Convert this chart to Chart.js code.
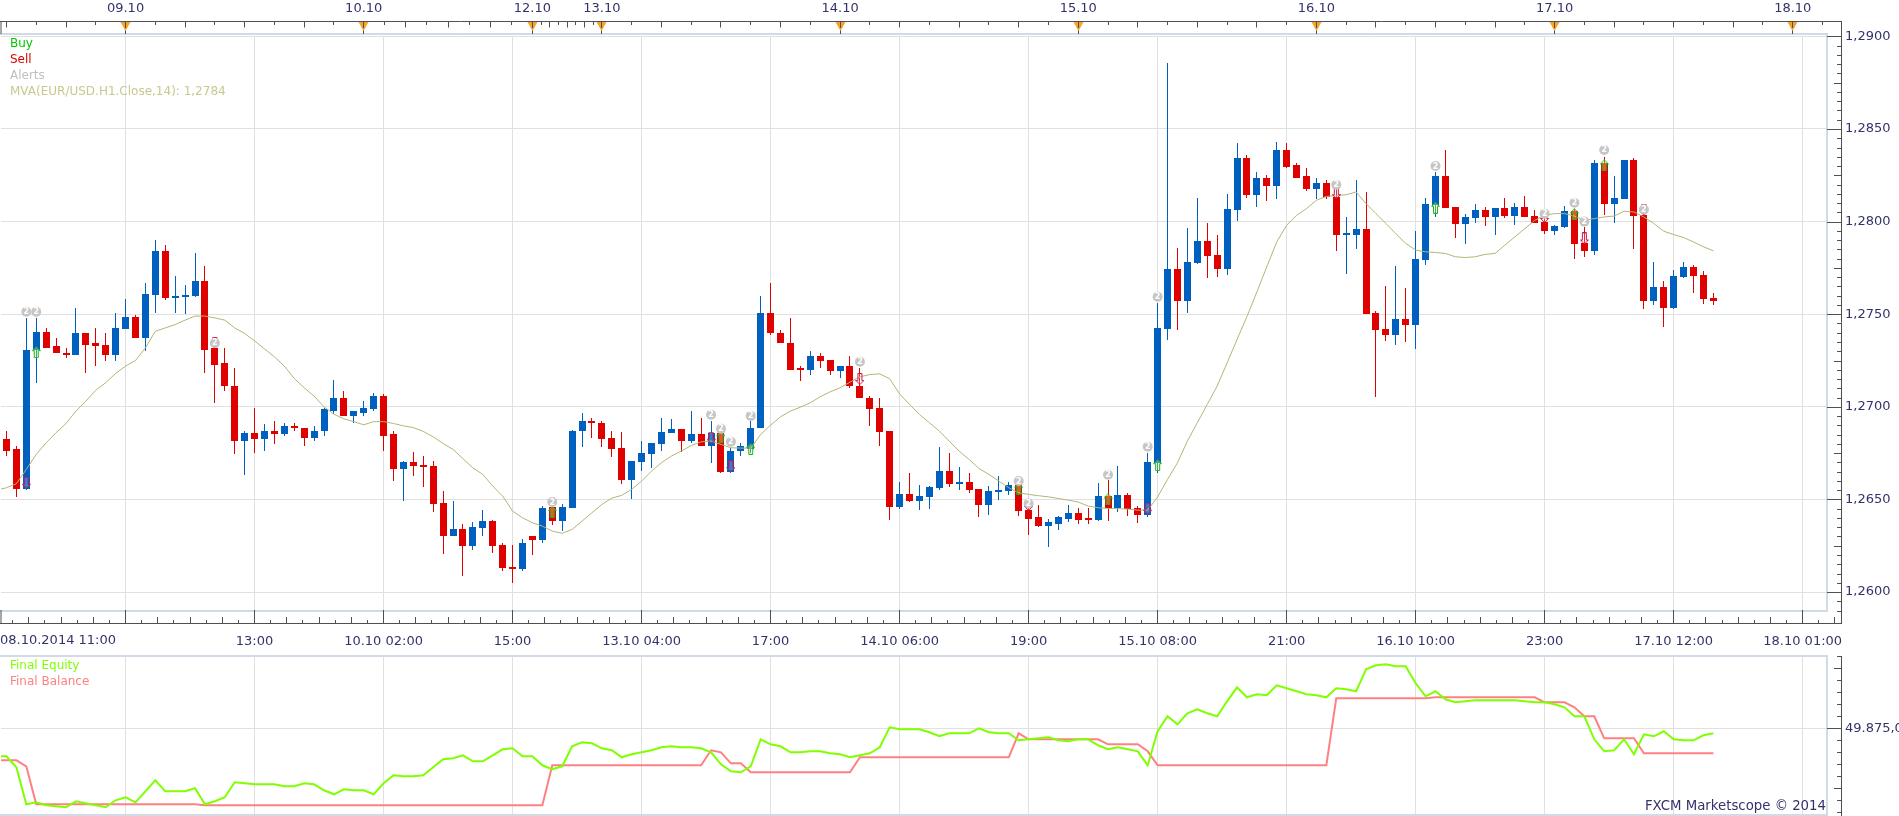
<!DOCTYPE html>
<html>
<head>
<meta charset="utf-8">
<title>EUR/USD H1</title>
<script src="https://cdn.jsdelivr.net/npm/chart.js@4/dist/chart.umd.js"></script>
<style>
  html, body { margin: 0; padding: 0; background: #fff; overflow: hidden; }
  canvas { position: absolute; left: 0; display: block; }
  #priceChart { top: 0; }
  #equityChart { top: 655px; }
</style>
</head>
<body>
<canvas id="priceChart" width="1899" height="655"></canvas>
<canvas id="equityChart" width="1899" height="161"></canvas>
<script>
// candle 0 is 08.10 11:00 and sits just off the left edge, so the OHLC lists start at hour 1
const opens = [
  1.26824,1.26770,1.26554,1.27309,1.27406,1.27326,1.27293,1.27282,1.27401,1.27342,
  1.27336,1.27282,1.27421,1.27486,1.27374,1.27604,1.27840,1.27588,1.27593,1.27599,
  1.27679,1.27315,1.27234,1.27115,1.26813,1.26856,1.26824,1.26872,1.26851,1.26899,
  1.26888,1.26829,1.26867,1.26980,1.27050,1.26948,1.26969,1.26986,1.27056,1.26851,
  1.26662,1.26700,1.26683,1.26678,1.26478,1.26300,1.26338,1.26246,1.26344,1.26381,
  1.26252,1.26133,1.26122,1.26300,1.26279,1.26457,1.26381,1.26451,1.26867,1.26921,
  1.26915,1.26829,1.26775,1.26603,1.26700,1.26743,1.26797,1.26856,1.26878,1.26813,
  1.26851,1.26791,1.26856,1.26646,1.26759,1.26770,1.26883,1.27504,1.27401,1.27347,
  1.27207,1.27201,1.27277,1.27255,1.27191,1.27218,1.27115,1.27050,1.26991,1.26867,
  1.26457,1.26527,1.26489,1.26511,1.26560,1.26656,1.26581,1.26592,1.26554,1.26468,
  1.26538,1.26543,1.26576,1.26441,1.26403,1.26354,1.26370,1.26397,1.26424,1.26392,
  1.26387,1.26516,1.26451,1.26522,1.26451,1.26414,1.26694,1.27421,1.27744,1.27572,
  1.27776,1.27894,1.27819,1.27744,1.28061,1.28346,1.28142,1.28238,1.28190,1.28389,
  1.28303,1.28244,1.28174,1.28211,1.28131,1.27927,1.27927,1.27959,1.27507,1.27421,
  1.27389,1.27475,1.27443,1.27792,1.28090,1.28244,1.28077,1.27986,1.28018,1.28061,
  1.28023,1.28072,1.28029,1.28077,1.28029,1.27996,1.27948,1.27970,1.28056,1.27884,
  1.27840,1.28319,1.28093,1.28120,1.28330,1.28034,1.27572,1.27647,1.27534,1.27701,
  1.27754,1.27711,1.27588
];
const closes = [
  1.26764,1.26554,1.27309,1.27406,1.27320,1.27288,1.27282,1.27401,1.27336,1.27331,
  1.27282,1.27428,1.27486,1.27374,1.27609,1.27840,1.27588,1.27599,1.27604,1.27679,
  1.27309,1.27228,1.27110,1.26813,1.26856,1.26824,1.26872,1.26851,1.26899,1.26883,
  1.26829,1.26872,1.26986,1.27050,1.26948,1.26975,1.26991,1.27056,1.26845,1.26662,
  1.26700,1.26678,1.26673,1.26473,1.26300,1.26338,1.26246,1.26349,1.26381,1.26246,
  1.26128,1.26122,1.26263,1.26279,1.26451,1.26381,1.26457,1.26872,1.26921,1.26910,
  1.26824,1.26770,1.26603,1.26705,1.26748,1.26802,1.26862,1.26878,1.26813,1.26851,
  1.26791,1.26856,1.26646,1.26764,1.26791,1.26888,1.27504,1.27396,1.27342,1.27201,
  1.27201,1.27277,1.27250,1.27191,1.27218,1.27110,1.27045,1.26986,1.26862,1.26457,
  1.26527,1.26489,1.26516,1.26565,1.26656,1.26581,1.26592,1.26549,1.26468,1.26543,
  1.26549,1.26576,1.26435,1.26397,1.26354,1.26376,1.26403,1.26424,1.26387,1.26387,
  1.26516,1.26451,1.26522,1.26446,1.26414,1.26700,1.27428,1.27744,1.27572,1.27781,
  1.27894,1.27814,1.27744,1.28066,1.28346,1.28142,1.28238,1.28190,1.28389,1.28297,
  1.28238,1.28174,1.28211,1.28131,1.27927,1.27932,1.27959,1.27502,1.27416,1.27389,
  1.27475,1.27443,1.27797,1.28093,1.28244,1.28072,1.27986,1.28023,1.28061,1.28023,
  1.28072,1.28029,1.28077,1.28023,1.27991,1.27948,1.27975,1.28056,1.27878,1.27840,
  1.28319,1.28093,1.28125,1.28330,1.28029,1.27572,1.27647,1.27534,1.27706,1.27754,
  1.27706,1.27582,1.27572
];
const highs = [
  1.26872,1.26786,1.27477,1.27477,1.27423,1.27374,1.27320,1.27536,1.27401,1.27428,
  1.27396,1.27504,1.27582,1.27497,1.27668,1.27900,1.27873,1.27706,1.27658,1.27830,
  1.27760,1.27374,1.27315,1.27212,1.26872,1.26991,1.26905,1.26926,1.26910,1.26915,
  1.26888,1.26894,1.26991,1.27147,1.27083,1.26975,1.27029,1.27077,1.27067,1.26872,
  1.26705,1.26754,1.26737,1.26710,1.26543,1.26489,1.26370,1.26376,1.26441,1.26387,
  1.26263,1.26252,1.26284,1.26300,1.26462,1.26462,1.26473,1.26877,1.26964,1.26937,
  1.26926,1.26867,1.26862,1.26705,1.26813,1.26802,1.26942,1.26932,1.26878,1.26980,
  1.26942,1.26926,1.26856,1.26775,1.26802,1.26921,1.27600,1.27670,1.27417,1.27477,
  1.27223,1.27304,1.27293,1.27255,1.27218,1.27272,1.27207,1.27056,1.27045,1.26867,
  1.26592,1.26640,1.26576,1.26570,1.26781,1.26748,1.26673,1.26640,1.26554,1.26570,
  1.26624,1.26592,1.26576,1.26478,1.26468,1.26392,1.26408,1.26468,1.26451,1.26451,
  1.26586,1.26603,1.26683,1.26532,1.26462,1.26748,1.27563,1.28857,1.27857,1.27964,
  1.28130,1.27990,1.27927,1.28147,1.28427,1.28357,1.28270,1.28254,1.28432,1.28427,
  1.28319,1.28287,1.28233,1.28222,1.28222,1.28023,1.28222,1.28158,1.27518,1.27652,
  1.27760,1.27642,1.27948,1.28130,1.28270,1.28384,1.28077,1.28039,1.28093,1.28077,
  1.28072,1.28130,1.28099,1.28136,1.28061,1.28061,1.27980,1.28082,1.28070,1.27970,
  1.28330,1.28351,1.28244,1.28330,1.28346,1.28065,1.27781,1.27679,1.27738,1.27781,
  1.27765,1.27733,1.27615
];
const lows = [
  1.26732,1.26511,1.26549,1.27131,1.27320,1.27288,1.27266,1.27282,1.27185,1.27223,
  1.27245,1.27250,1.27421,1.27374,1.27304,1.27507,1.27579,1.27507,1.27502,1.27591,
  1.27180,1.27023,1.27088,1.26743,1.26630,1.26748,1.26764,1.26797,1.26845,1.26867,
  1.26791,1.26818,1.26840,1.26959,1.26948,1.26915,1.26953,1.26975,1.26764,1.26597,
  1.26489,1.26624,1.26565,1.26430,1.26203,1.26300,1.26085,1.26225,1.26300,1.26209,
  1.26112,1.26047,1.26112,1.26198,1.26263,1.26360,1.26327,1.26451,1.26781,1.26829,
  1.26781,1.26727,1.26581,1.26500,1.26651,1.26667,1.26759,1.26856,1.26754,1.26802,
  1.26786,1.26694,1.26640,1.26640,1.26732,1.26748,1.26883,1.27390,1.27342,1.27201,
  1.27137,1.27174,1.27212,1.27174,1.27158,1.27099,1.27045,1.26894,1.26786,1.26387,
  1.26446,1.26484,1.26441,1.26446,1.26549,1.26565,1.26549,1.26532,1.26403,1.26414,
  1.26495,1.26522,1.26408,1.26306,1.26349,1.26241,1.26333,1.26376,1.26365,1.26365,
  1.26381,1.26381,1.26430,1.26408,1.26371,1.26403,1.26640,1.27362,1.27416,1.27507,
  1.27770,1.27695,1.27700,1.27711,1.28002,1.28130,1.28077,1.28109,1.28120,1.28287,
  1.28238,1.28163,1.28120,1.28120,1.27840,1.27717,1.27850,1.27502,1.27052,1.27357,
  1.27335,1.27351,1.27314,1.27765,1.28023,1.28072,1.27910,1.27878,1.27990,1.27975,
  1.27927,1.28018,1.27980,1.28023,1.27991,1.27932,1.27927,1.27964,1.27797,1.27808,
  1.27819,1.28034,1.27991,1.28120,1.27851,1.27529,1.27550,1.27432,1.27529,1.27695,
  1.27615,1.27556,1.27550
];

// the lists below start at hour 0
const mva = [
  1.26550,
  1.26563,1.26585,1.26662,1.26743,1.26806,1.26860,1.26910,1.26977,1.27030,1.27090,
  1.27130,1.27180,1.27220,1.27250,1.27318,1.27408,1.27426,1.27444,1.27468,1.27490,
  1.27490,1.27480,1.27468,1.27426,1.27396,1.27356,1.27313,1.27270,1.27220,1.27153,
  1.27103,1.27058,1.27000,1.26960,1.26935,1.26920,1.26903,1.26920,1.26920,1.26910,
  1.26897,1.26888,1.26867,1.26838,1.26802,1.26770,1.26720,1.26670,1.26635,1.26572,
  1.26518,1.26437,1.26401,1.26374,1.26356,1.26329,1.26317,1.26338,1.26383,1.26428,
  1.26473,1.26507,1.26522,1.26554,1.26599,1.26653,1.26698,1.26734,1.26761,1.26791,
  1.26811,1.26815,1.26797,1.26779,1.26777,1.26777,1.26851,1.26901,1.26946,1.26977,
  1.26998,1.27022,1.27054,1.27081,1.27103,1.27133,1.27162,1.27174,1.27178,1.27151,
  1.27070,1.27013,1.26959,1.26914,1.26869,1.26815,1.26761,1.26716,1.26667,1.26635,
  1.26599,1.26563,1.26536,1.26527,1.26520,1.26514,1.26505,1.26496,1.26486,1.26464,
  1.26455,1.26451,1.26450,1.26448,1.26442,1.26442,1.26514,1.26608,1.26698,1.26815,
  1.26914,1.27013,1.27112,1.27237,1.27363,1.27487,1.27620,1.27756,1.27890,1.27980,
  1.28034,1.28070,1.28115,1.28136,1.28140,1.28145,1.28160,1.28097,1.28043,1.27990,
  1.27935,1.27882,1.27846,1.27837,1.27833,1.27828,1.27810,1.27806,1.27810,1.27823,
  1.27828,1.27873,1.27918,1.27962,1.28007,1.28034,1.28043,1.28043,1.28030,1.28007,
  1.28016,1.28025,1.28030,1.28056,1.28052,1.28025,1.27990,1.27948,1.27930,1.27914,
  1.27890,1.27864,1.27842
];
const finalEquity = [
  49847,
  49847,49836,49799,49801,49798,49797,49796,49802,49800,49798,
  49796,49803,49806,49801,49812,49823,49812,49812,49812,49815,
  49799,49802,49806,49821,49820,49819,49819,49819,49817,49817,
  49820,49819,49813,49809,49814,49813,49813,49809,49820,49828,
  49827,49827,49828,49836,49844,49845,49848,49842,49842,49848,
  49854,49855,49847,49847,49838,49834,49837,49857,49861,49860,
  49855,49853,49846,49849,49851,49853,49856,49857,49856,49856,
  49855,49851,49839,49832,49831,49837,49864,49859,49857,49851,
  49851,49852,49852,49850,49849,49846,49848,49850,49856,49876,
  49874,49874,49874,49871,49867,49870,49870,49870,49875,49871,
  49870,49870,49863,49864,49865,49866,49863,49862,49864,49864,
  49858,49854,49856,49854,49852,49838,49872,49887,49879,49890,
  49894,49890,49887,49902,49916,49906,49909,49908,49918,49915,
  49912,49909,49908,49906,49915,49914,49912,49934,49938,49939,
  49937,49937,49920,49907,49912,49904,49901,49902,49903,49903,
  49903,49903,49903,49902,49901,49901,49899,49896,49887,49887,
  49864,49852,49853,49864,49849,49869,49867,49872,49864,49863,
  49863,49868,49870
];
const finalBalance = [
  49843,
  49843,49843,49837,49799,49799,49799,49799,49799,49799,49799,
  49799,49799,49799,49799,49799,49799,49799,49799,49799,49799,
  49798,49798,49798,49798,49798,49798,49798,49798,49798,49798,
  49798,49798,49798,49798,49798,49798,49798,49798,49798,49798,
  49798,49798,49798,49798,49798,49798,49798,49798,49798,49798,
  49798,49798,49798,49798,49798,49838,49838,49838,49838,49838,
  49838,49838,49838,49838,49838,49838,49838,49838,49838,49838,
  49838,49853,49851,49840,49840,49831,49831,49831,49831,49831,
  49831,49831,49831,49831,49831,49831,49846,49846,49846,49846,
  49846,49846,49846,49846,49846,49846,49846,49846,49846,49846,
  49846,49846,49870,49864,49864,49864,49864,49864,49864,49864,
  49864,49859,49859,49859,49859,49852,49838,49838,49838,49838,
  49838,49838,49838,49838,49838,49838,49838,49838,49838,49838,
  49838,49838,49838,49838,49905,49905,49905,49905,49905,49905,
  49905,49905,49905,49905,49906,49906,49906,49906,49906,49906,
  49906,49906,49906,49906,49906,49901,49901,49901,49896,49887,
  49887,49865,49865,49865,49865,49850,49850,49850,49850,49850,
  49850,49850,49850
];

// alert badges and trade arrows
const alertHours = [3,4,22,56,72,73,74,76,87,103,104,112,116,117,135,145,156,159,160,162,166];
const alertPrices = [1.27513,1.27513,1.27345,1.26486,1.26957,1.26881,1.26811,1.26951,1.27243,1.26599,1.26478,1.26633,1.26784,1.27594,1.28199,1.28300,1.28043,1.28102,1.28000,1.28387,1.28065];
const buyHours = [4,56,73,76,103,112,117,145,159,162];
const buyPrices = [1.27295,1.26433,1.26836,1.26773,1.26558,1.26500,1.26685,1.28075,1.28039,1.28303];
const sellHours = [3,22,72,74,87,104,116,135,156,160,166];
const sellPrices = [1.26590,1.27345,1.26833,1.26680,1.27150,1.26470,1.26450,1.28154,1.28025,1.27909,1.28065];

const priceTicks = [1.26,1.265,1.27,1.275,1.28,1.285,1.29];
const equityTicks = [49875];
const hourTicks = [13,26,39,52,65,78,91,104,117,130,143,156,169,182];
const hourLabels = ['','13:00','10.10 02:00','15:00','13.10 04:00','17:00','14.10 06:00','19:00','15.10 08:00','21:00','16.10 10:00','23:00','17.10 12:00','18.10 01:00'];
const firstHourLabel = '08.10.2014 11:00';
const dayTicks = [13,37,54,61,85,109,133,157,181];
const dayLabels = ['09.10','10.10','12.10','13.10','14.10','15.10','16.10','17.10','18.10'];

const hourMin = 0.45, hourMax = 184.35;
const textColor = '#33336b';
const gridColor = '#e0e0e0';
const frameColor = '#d2dae6';
const rulerColor = '#505050';
const fontFamily = '"DejaVu Sans", sans-serif';

Chart.defaults.font.family = fontFamily;
Chart.defaults.font.size = 13;
Chart.defaults.animation = false;
Chart.defaults.events = [];

const formatPrice = v => v.toFixed(4).replace('.', ',');

function pickTicks(values) {
  return scale => { scale.ticks = values.map(value => ({ value })); };
}

// small outlined arrow used as a point style for the trade marks
function arrowIcon(up, stroke, fill) {
  const c = document.createElement('canvas');
  c.width = 9; c.height = 12;
  const g = c.getContext('2d');
  g.translate(0, up ? 0 : 12);
  g.scale(1, up ? 1 : -1);
  g.beginPath();
  g.moveTo(4.5, 0.5); g.lineTo(8.5, 4.5); g.lineTo(6.5, 4.5); g.lineTo(6.5, 11.5);
  g.lineTo(2.5, 11.5); g.lineTo(2.5, 4.5); g.lineTo(0.5, 4.5); g.closePath();
  g.fillStyle = fill; g.fill();
  g.strokeStyle = stroke; g.lineWidth = 1; g.stroke();
  return c;
}

// keep bars on whole pixels so candles stay crisp
const snapBars = {
  id: 'snapBars',
  beforeDatasetsDraw(chart) {
    chart.getSortedVisibleDatasetMetas().forEach(meta => {
      if (meta.type !== 'bar') return;
      meta.data.forEach(el => {
        el.x = Math.floor(el.x) + 0.5;
        el.y = Math.round(el.y);
        el.base = Math.round(el.base);
      });
    });
  }
};

const alertBadges = {
  id: 'alertBadges',
  afterDatasetsDraw(chart) {
    const ctx = chart.ctx;
    const idx = chart.data.datasets.findIndex(d => d.label === 'Alerts');
    if (idx < 0) return;
    ctx.save();
    ctx.fillStyle = '#fff';
    ctx.font = 'bold 8px ' + fontFamily;
    ctx.textAlign = 'center';
    ctx.textBaseline = 'middle';
    chart.getDatasetMeta(idx).data.forEach(pt => ctx.fillText('2', pt.x, pt.y + 0.5));
    ctx.restore();
  }
};

const panelText = {
  id: 'panelText',
  afterDatasetsDraw(chart, args, opts) {
    const ctx = chart.ctx;
    ctx.save();
    ctx.textBaseline = 'middle';
    (opts.rows || []).forEach(row => {
      ctx.font = (row.size || 12) + 'px ' + fontFamily;
      ctx.fillStyle = row.color;
      ctx.textAlign = row.align || 'left';
      ctx.fillText(row.text, row.x, row.y);
    });
    ctx.restore();
  }
};

function hline(ctx, x1, x2, y) { ctx.moveTo(x1, y); ctx.lineTo(x2, y); }
function vline(ctx, x, y1, y2) { ctx.moveTo(x, y1); ctx.lineTo(x, y2); }

// frame bands, time rulers and the tick strip along the right side
const priceRulers = {
  id: 'priceRulers',
  afterDraw(chart) {
    const ctx = chart.ctx, xs = chart.scales.x, ys = chart.scales.y;
    const px = v => Math.floor(xs.getPixelForValue(v)) + 0.5;
    const a = chart.chartArea;
    ctx.save();
    ctx.fillStyle = frameColor;
    ctx.fillRect(0, 33, a.right + 2, 2);
    ctx.fillRect(a.right, 33, 2, a.bottom - 31);
    ctx.fillRect(0, a.bottom, a.right + 2, 2);

    ctx.strokeStyle = rulerColor;
    ctx.lineWidth = 1;
    ctx.beginPath();
    hline(ctx, 0, 1842, 21.5);
    vline(ctx, 1, 21, 34);
    hline(ctx, 0, 1842, 623.5);
    vline(ctx, 1, 610, 623);
    vline(ctx, 1841.5, 21, 624);

    // three-hour marks, squeezed on the short days
    const days = [-11, ...dayTicks, 205];
    for (let d = 0; d < days.length - 1; d++) {
      for (let k = 0; k < 8; k++) {
        const v = days[d] + (days[d + 1] - days[d]) * k / 8;
        const x = px(v);
        if (x < 2 || x > 1841) continue;
        vline(ctx, x, 22, k === 0 ? 34 : (k % 2 === 0 ? 27.5 : 25));
      }
    }

    // bottom ruler, eight marks per labelled interval
    for (let n = 0; n < 120; n++) {
      const x = px(n * 13 / 8);
      if (x < 2 || x > 1841) continue;
      vline(ctx, x, n % 8 === 0 ? 610 : (n % 2 === 0 ? 617 : 620), 623);
    }

    // price strip
    for (let n = 0; n <= 62; n++) {
      const v = 1.29 - n * 0.0005;
      const y = Math.round(ys.getPixelForValue(v)) + 0.5;
      const left = n % 10 === 0 ? 1827 : (n % 5 === 0 ? 1834 : 1837);
      hline(ctx, left, 1841, y);
    }
    ctx.stroke();

    // orange day flags
    dayTicks.forEach(v => {
      const x = px(v);
      ctx.fillStyle = '#f6a42c';
      ctx.beginPath();
      ctx.moveTo(x - 5, 22); ctx.lineTo(x + 5, 22); ctx.lineTo(x, 31); ctx.closePath();
      ctx.fill();
      ctx.strokeStyle = rulerColor;
      ctx.beginPath();
      vline(ctx, x, 22, 28);
      ctx.stroke();
    });
    ctx.restore();
  }
};

const equityRulers = {
  id: 'equityRulers',
  afterDraw(chart) {
    const ctx = chart.ctx, ys = chart.scales.y, a = chart.chartArea;
    ctx.save();
    ctx.fillStyle = frameColor;
    ctx.fillRect(0, a.top - 1, a.right + 2, 2);
    ctx.fillRect(a.right, a.top - 1, 2, a.bottom - a.top + 2);
    ctx.fillRect(0, a.bottom, a.right + 2, 2);
    ctx.strokeStyle = rulerColor;
    ctx.lineWidth = 1;
    ctx.beginPath();
    vline(ctx, 1841.5, 1, 161);
    for (let k = -7; k <= 6; k++) {
      const y = Math.round(ys.getPixelForValue(49875 + 12 * k)) + 0.5;
      const left = k === 0 ? 1827 : (Math.abs(k) === 5 ? 1834 : 1837);
      hline(ctx, left, 1841, y);
    }
    ctx.stroke();
    ctx.restore();
  }
};

const candleHours = opens.map((_, i) => i + 1);

new Chart(document.getElementById('priceChart'), {
  type: 'bar',
  plugins: [snapBars, alertBadges, panelText, priceRulers],
  data: {
    datasets: [
      {
        label: 'Alerts', type: 'scatter', order: 1,
        data: alertHours.map((x, i) => ({ x, y: alertPrices[i] })),
        pointStyle: 'circle', pointRadius: 5, backgroundColor: '#c6c6c6', borderWidth: 0
      },
      {
        label: 'Buy', type: 'scatter', order: 2,
        data: buyHours.map((x, i) => ({ x, y: buyPrices[i] })),
        pointStyle: arrowIcon(true, '#10b820', 'rgba(255,255,110,0.35)')
      },
      {
        label: 'Sell', type: 'scatter', order: 2,
        data: sellHours.map((x, i) => ({ x, y: sellPrices[i] })),
        pointStyle: arrowIcon(false, '#d0104a', 'rgba(255,255,255,0.2)')
      },
      {
        label: 'MVA', type: 'line', order: 3,
        data: mva.map((y, x) => ({ x, y })),
        borderColor: '#b4b478', borderWidth: 1, pointRadius: 0, tension: 0
      },
      {
        label: 'Body', order: 4, grouped: false,
        data: candleHours.map((x, i) => ({ x, y: [opens[i], closes[i]] })),
        backgroundColor: candleHours.map((_, i) => closes[i] >= opens[i] ? '#0060c0' : '#df0000'),
        barThickness: 7, minBarLength: 2, borderWidth: 0, inflateAmount: 0
      },
      {
        label: 'Wick', order: 5, grouped: false,
        data: candleHours.map((x, i) => ({ x, y: [lows[i], highs[i]] })),
        backgroundColor: candleHours.map((_, i) => closes[i] >= opens[i] ? '#0060c0' : '#df0000'),
        barThickness: 1, borderWidth: 0, inflateAmount: 0
      }
    ]
  },
  options: {
    responsive: false,
    devicePixelRatio: 1,
    layout: { autoPadding: false, padding: { left: 1 } },
    plugins: {
      legend: { display: false },
      tooltip: { enabled: false },
      panelText: {
        rows: [
          { text: 'Buy', color: '#00c800', x: 10, y: 44 },
          { text: 'Sell', color: '#dc0000', x: 10, y: 60 },
          { text: 'Alerts', color: '#c0c0c0', x: 10, y: 76 },
          { text: 'MVA(EUR/USD.H1.Close,14): ' + formatPrice(mva[mva.length - 1]), color: '#c8c890', x: 10, y: 92 },
          { text: firstHourLabel, color: textColor, x: 0, y: 641, size: 13 }
        ]
      }
    },
    scales: {
      x: {
        type: 'linear', position: 'bottom', min: hourMin, max: hourMax, offset: false,
        afterBuildTicks: pickTicks(hourTicks),
        afterFit: s => { s.height = 45; },
        grid: { color: gridColor, drawTicks: false, offset: false },
        border: { display: false },
        ticks: {
          autoSkip: false, maxRotation: 0, padding: 24, color: textColor,
          callback: v => hourLabels[hourTicks.indexOf(v)]
        }
      },
      xTop: {
        type: 'linear', axis: 'x', position: 'top', min: hourMin, max: hourMax, offset: false,
        afterBuildTicks: pickTicks(dayTicks),
        afterFit: s => { s.height = 36; },
        grid: { display: false },
        border: { display: false },
        ticks: {
          autoSkip: false, maxRotation: 0, padding: 12, color: textColor,
          callback: v => dayLabels[dayTicks.indexOf(v)]
        }
      },
      y: {
        type: 'linear', position: 'right', min: 1.25903, max: 1.29002,
        afterBuildTicks: pickTicks(priceTicks),
        afterFit: s => { s.width = 73; s.paddingTop = 0; s.paddingBottom = 0; },
        grid: { color: gridColor, drawTicks: false },
        border: { display: false },
        ticks: {
          autoSkip: false, padding: 19, color: textColor,
          callback: formatPrice
        }
      }
    }
  }
});

new Chart(document.getElementById('equityChart'), {
  type: 'line',
  plugins: [panelText, equityRulers],
  data: {
    datasets: [
      {
        label: 'Final Balance', order: 2,
        data: finalBalance.map((y, x) => ({ x, y })),
        borderColor: '#ff8080', borderWidth: 2, pointRadius: 0, tension: 0
      },
      {
        label: 'Final Equity', order: 1,
        data: finalEquity.map((y, x) => ({ x, y })),
        borderColor: '#80ff00', borderWidth: 2, pointRadius: 0, tension: 0
      }
    ]
  },
  options: {
    responsive: false,
    devicePixelRatio: 1,
    layout: { autoPadding: false, padding: { left: 1, top: 1, bottom: 2 } },
    plugins: {
      legend: { display: false },
      tooltip: { enabled: false },
      panelText: {
        rows: [
          { text: 'Final Equity', color: '#80ff00', x: 10, y: 11 },
          { text: 'Final Balance', color: '#ff8080', x: 10, y: 27 },
          { text: 'FXCM Marketscope © 2014', color: textColor, x: 1826, y: 152, align: 'right', size: 13.3 }
        ]
      }
    },
    scales: {
      x: {
        type: 'linear', position: 'bottom', min: hourMin, max: hourMax,
        afterBuildTicks: pickTicks(hourTicks),
        afterFit: s => { s.height = 0; },
        grid: { color: gridColor, drawTicks: false },
        border: { display: false },
        ticks: { display: false }
      },
      y: {
        type: 'linear', position: 'right', min: 49789.3, max: 49947.3,
        afterBuildTicks: pickTicks(equityTicks),
        afterFit: s => { s.width = 73; s.paddingTop = 0; s.paddingBottom = 0; },
        grid: { color: gridColor, drawTicks: false },
        border: { display: false },
        ticks: {
          autoSkip: false, padding: 19, color: textColor,
          callback: v => '49.875,0'
        }
      }
    }
  }
});
</script>
</body>
</html>
